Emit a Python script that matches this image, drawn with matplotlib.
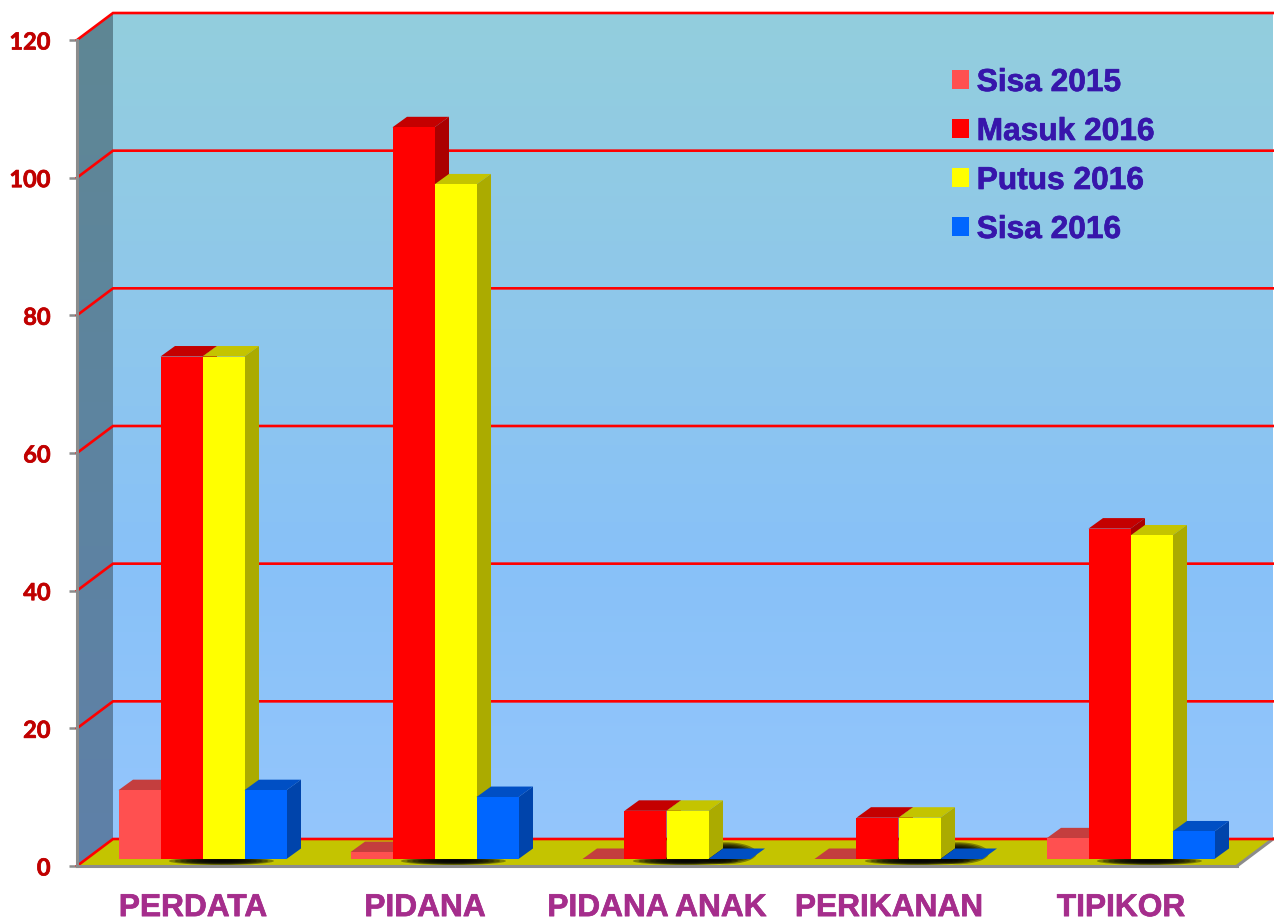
import numpy as np
import matplotlib
matplotlib.use('Agg')
import matplotlib.pyplot as plt
import matplotlib.patheffects as pe
from matplotlib.colors import LinearSegmentedColormap, to_rgb
from matplotlib.patches import Polygon, Ellipse

# data
categories = ['PERDATA', 'PIDANA', 'PIDANA ANAK', 'PERIKANAN', 'TIPIKOR']
sisa_2015 = [10, 1, 0, 0, 3]
masuk_2016 = [73, 106.3, 7, 6, 48]
putus_2016 = [73, 98, 7, 6, 47]
sisa_2016 = [10, 9, 0, 0, 4]
series_names = ['Sisa 2015', 'Masuk 2016', 'Putus 2016', 'Sisa 2016']
y_ticks = [0, 20, 40, 60, 80, 100, 120]

series = [sisa_2015, masuk_2016, putus_2016, sisa_2016]
colors = ['#FF5050', '#FF0000', '#FFFF00', '#0066FF']

W, H = 1274, 922
fig = plt.figure(figsize=(W / 100, H / 100), dpi=100, facecolor='white')
ax = fig.add_axes([77 / W, (H - 866) / H, 1160 / W, 826 / H])
ax.set_xlim(0, 5)
ax.set_ylim(0, 120)

# depth of the fake 3d box, in data units
px_x = 5 / 1160
px_y = 120 / 826
DX = 36 * px_x
DY = 27 * px_y
bar_w = 42 * px_x
bar_dx = 14.5 * px_x
bar_dy = 10.5 * px_y
base_dx = 9.5 * px_x
base_dy = 7 * px_y

# back wall and left wall
wall_cmap = LinearSegmentedColormap.from_list('wall', ['#93CEDD', '#8FC8EA', '#88C1F8', '#94C6FC'])
side_cmap = LinearSegmentedColormap.from_list('side', ['#5F8794', '#5D84A0', '#5F80A8'])
grad = np.linspace(0, 1, 256).reshape(-1, 1)
ax.imshow(grad, cmap=wall_cmap, aspect='auto', extent=(DX, 5 + DX, DY, 120 + DY),
          origin='upper', clip_on=False, zorder=1)
side_im = ax.imshow(grad, cmap=side_cmap, aspect='auto', extent=(0, DX, 0, 120 + DY),
                    origin='upper', zorder=1)
side_poly = Polygon([(0, 0), (DX, DY), (DX, 120 + DY), (0, 120)], closed=True,
                    transform=ax.transData, fc='none', ec='none', clip_on=False)
ax.add_patch(side_poly)
side_im.set_clip_box(fig.bbox)
side_im.set_clip_path(side_poly)
ax.set_xlim(0, 5)
ax.set_ylim(0, 120)

# floor
ax.add_patch(Polygon([(0, 0), (DX, DY), (5 + DX, DY), (5, 0)], closed=True, fc='#C4C400',
                     ec='none', zorder=2, clip_on=False))
ax.plot([5, 5 + DX], [0, DY], color='#8C8C8C', lw=2.2, clip_on=False, zorder=3)

# grid lines on both walls
for t in y_ticks:
    ax.plot([0, DX, 5 + DX], [t, t + DY, t + DY], color='#FF0000', lw=1.9,
            clip_on=False, zorder=3, solid_joinstyle='miter')


def shade(color, k):
    return tuple(c * k for c in to_rgb(color))


def blurred_shadow(cx, cy, w, h):
    for k in np.linspace(1, 0.25, 8):
        ax.add_patch(Ellipse((cx, cy), w * k, h * k, fc='black', ec='none', alpha=0.35,
                             zorder=4, clip_on=False))


# shadows under the bars
for i in range(len(categories)):
    x0 = i + 0.5 + base_dx - 2 * bar_w
    blurred_shadow(x0 + 2.45 * bar_w, 5 * px_y, 2.5 * bar_w, 8 * px_y)
    if sisa_2016[i] == 0:
        blurred_shadow(x0 + 3.4 * bar_w, base_dy + bar_dy * 0.55, 1.5 * bar_w, 22 * px_y)

# bars, left to right so the next one covers the hidden faces
for s, vals in enumerate(series):
    color = colors[s]
    for i, v in enumerate(vals):
        x = i + 0.5 + base_dx - 2 * bar_w + s * bar_w
        y = base_dy + v
        z = 5 + s
        ax.add_patch(Polygon([(x, y), (x + bar_dx, y + bar_dy),
                              (x + bar_w + bar_dx, y + bar_dy), (x + bar_w, y)],
                             closed=True, fc=shade(color, 0.77), ec='none', zorder=z,
                             clip_on=False))
        if v > 0:
            ax.add_patch(Polygon([(x + bar_w, base_dy), (x + bar_w + bar_dx, base_dy + bar_dy),
                                  (x + bar_w + bar_dx, y + bar_dy), (x + bar_w, y)],
                                 closed=True, fc=shade(color, 0.67), ec='none', zorder=z,
                                 clip_on=False))
    xs = [i + 0.5 + base_dx - 2 * bar_w + s * bar_w for i in range(len(vals))]
    ax.bar(xs, vals, width=bar_w, bottom=base_dy, align='edge', color=color,
           label=series_names[s], zorder=5 + s + 0.5, clip_on=False)

# axes
for side in ['top', 'right']:
    ax.spines[side].set_visible(False)
for side in ['left', 'bottom']:
    ax.spines[side].set_color('#8C8C8C')
    ax.spines[side].set_linewidth(2.2)
    ax.spines[side].set_zorder(12)

ax.set_yticks(y_ticks)
ylabels = ax.set_yticklabels([str(t) for t in y_ticks], fontfamily='Lato', fontweight='bold',
                             fontsize=17, color='#C00000')
ax.tick_params(axis='y', length=6, width=1.8, color='#8C8C8C', pad=13)

ax.set_xticks([i + 0.5 for i in range(len(categories))])
xlabels = ax.set_xticklabels(categories, fontfamily='Liberation Sans', fontweight='bold',
                             fontsize=22.8, color='#A52D8C')
ax.tick_params(axis='x', length=0, pad=19.5)
ax.set_xticks(range(1, 6), minor=True)
ax.tick_params(axis='x', which='minor', direction='in', length=6, width=1.5, color='#8C8C8C')

leg = ax.legend(loc='upper left', bbox_to_anchor=((952 - 77) / 1160, (866 - 68) / 826),
                frameon=False, prop={'family': 'Liberation Sans', 'weight': 'bold', 'size': 22.8},
                handlelength=0.54, handleheight=0.54, handletextpad=0.24, labelspacing=0.6,
                borderpad=0, borderaxespad=0)
leg.set_zorder(20)
for text in leg.get_texts():
    text.set_color('#3716AB')

# the labels in the picture are a bit heavier than plain bold
for label in list(ylabels) + list(xlabels) + leg.get_texts():
    label.set_path_effects([pe.withStroke(linewidth=0.5, foreground=label.get_color())])

plt.savefig('out.png', dpi=100, facecolor='white')
plt.close()
